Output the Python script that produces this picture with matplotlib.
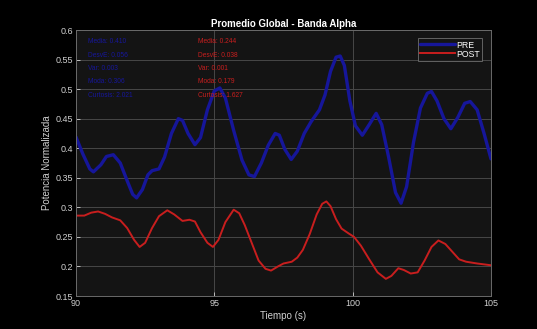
import matplotlib
matplotlib.use("Agg")
import matplotlib.pyplot as plt

# PRE series: time (s) and normalized power
pre_t = [90.0, 90.25, 90.5, 90.63, 90.9, 91.1, 91.35, 91.6, 91.85, 92.05, 92.19, 92.4, 92.6,
         92.75, 93.0, 93.2, 93.45, 93.7, 93.85, 94.05, 94.3, 94.5, 94.75, 95.0, 95.2, 95.4,
         95.7, 96.0, 96.25, 96.45, 96.7, 96.95, 97.2, 97.35, 97.55, 97.78, 98.0, 98.25, 98.5,
         98.8, 99.0, 99.2, 99.4, 99.55, 99.7, 99.9, 100.1, 100.35, 100.6, 100.85, 101.05,
         101.3, 101.55, 101.75, 101.95, 102.2, 102.45, 102.7, 102.85, 103.05, 103.3, 103.55,
         103.8, 104.05, 104.25, 104.5, 104.75, 105.0]
pre_v = [0.419, 0.390, 0.365, 0.360, 0.372, 0.386, 0.389, 0.375, 0.345, 0.322, 0.316, 0.330,
         0.355, 0.362, 0.365, 0.385, 0.425, 0.450, 0.447, 0.425, 0.406, 0.418, 0.465, 0.497,
         0.502, 0.485, 0.430, 0.380, 0.355, 0.352, 0.375, 0.405, 0.425, 0.422, 0.398, 0.381,
         0.395, 0.425, 0.445, 0.465, 0.490, 0.530, 0.554, 0.556, 0.540, 0.480, 0.438, 0.422,
         0.440, 0.459, 0.440, 0.385, 0.325, 0.307, 0.335, 0.410, 0.468, 0.493, 0.496, 0.480,
         0.450, 0.433, 0.452, 0.476, 0.479, 0.465, 0.425, 0.382]

# POST series
post_t = [90.0, 90.3, 90.55, 90.8, 91.05, 91.3, 91.6, 91.85, 92.1, 92.3, 92.5, 92.75, 93.0,
          93.3, 93.55, 93.85, 94.1, 94.3, 94.5, 94.75, 94.95, 95.15, 95.4, 95.7, 95.9, 96.1,
          96.35, 96.6, 96.85, 97.05, 97.3, 97.5, 97.8, 98.0, 98.2, 98.45, 98.7, 98.9, 99.05,
          99.2, 99.4, 99.6, 99.85, 100.05, 100.3, 100.6, 100.9, 101.2, 101.4, 101.65, 101.85,
          102.1, 102.35, 102.6, 102.85, 103.1, 103.35, 103.6, 103.85, 104.1, 104.5, 105.0]
post_v = [0.286, 0.286, 0.291, 0.293, 0.289, 0.283, 0.278, 0.265, 0.245, 0.233, 0.240, 0.265,
          0.285, 0.295, 0.288, 0.277, 0.279, 0.276, 0.258, 0.240, 0.233, 0.245, 0.275, 0.296,
          0.290, 0.270, 0.240, 0.210, 0.196, 0.193, 0.200, 0.205, 0.208, 0.215, 0.228, 0.255,
          0.288, 0.306, 0.310, 0.302, 0.280, 0.264, 0.256, 0.250, 0.235, 0.212, 0.190, 0.179,
          0.184, 0.197, 0.194, 0.188, 0.190, 0.210, 0.233, 0.244, 0.238, 0.225, 0.212, 0.208,
          0.205, 0.202]

stat_names = ["Media", "DesvE", "Var", "Moda", "Curtosis"]
pre_stats = ["0.410", "0.056", "0.003", "0.306", "2.021"]
post_stats = ["0.244", "0.038", "0.001", "0.179", "1.627"]

x_ticks = [90, 95, 100, 105]
y_ticks = [0.15, 0.2, 0.25, 0.3, 0.35, 0.4, 0.45, 0.5, 0.55, 0.6]
y_ticklabels = ["0.15", "0.2", "0.25", "0.3", "0.35", "0.4", "0.45", "0.5", "0.55", "0.6"]

pre_color = "#16169a"
post_color = "#c81e1e"
fg = "#d0d0d0"

plt.rcParams["font.family"] = ["Liberation Sans", "DejaVu Sans"]

fig = plt.figure(figsize=(5.37, 3.29), dpi=100, facecolor="black")
ax = fig.add_axes([0.1415, 0.1003, 0.7728, 0.8085], facecolor="#141414")

ax.plot(pre_t, pre_v, color=pre_color, lw=2.4, label="PRE",
        solid_capstyle="round", solid_joinstyle="round")
ax.plot(post_t, post_v, color=post_color, lw=1.4, label="POST", solid_joinstyle="round")

ax.set_xlim(90, 105)
ax.set_ylim(0.15, 0.6)
ax.set_xticks(x_ticks)
ax.set_yticks(y_ticks)
ax.set_yticklabels(y_ticklabels)
ax.grid(True, color="#474747", lw=0.7)
ax.set_axisbelow(True)
ax.tick_params(colors=fg, labelsize=6.5, direction="in", length=3, width=0.6, pad=2)
for s in ax.spines.values():
    s.set_color("#6a6a6a")
    s.set_linewidth(0.7)

ax.set_title("Promedio Global - Banda Alpha", color="white", fontsize=7, fontweight="bold", pad=2)
ax.set_xlabel("Tiempo (s)", color=fg, fontsize=7, labelpad=2)
ax.set_ylabel("Potencia Normalizada", color=fg, fontsize=7, labelpad=3)

for i, (name, a, b) in enumerate(zip(stat_names, pre_stats, post_stats)):
    y = 0.955 - i * 0.05
    ax.text(0.03, y, f"{name}: {a}", transform=ax.transAxes, color=pre_color,
            fontsize=4.8, va="center")
    ax.text(0.295, y, f"{name}: {b}", transform=ax.transAxes, color=post_color,
            fontsize=4.8, va="center")

leg = ax.legend(loc="upper right", fontsize=6.3, frameon=True, facecolor="#141414",
                edgecolor="#777777", labelcolor="white", handlelength=4.0,
                borderpad=0.25, labelspacing=0.0, handletextpad=0.2,
                bbox_to_anchor=(0.99, 0.985))
leg.get_frame().set_linewidth(0.7)
leg.get_frame().set_boxstyle("square", pad=0)

fig.savefig("out.png", dpi=100, facecolor="black")
